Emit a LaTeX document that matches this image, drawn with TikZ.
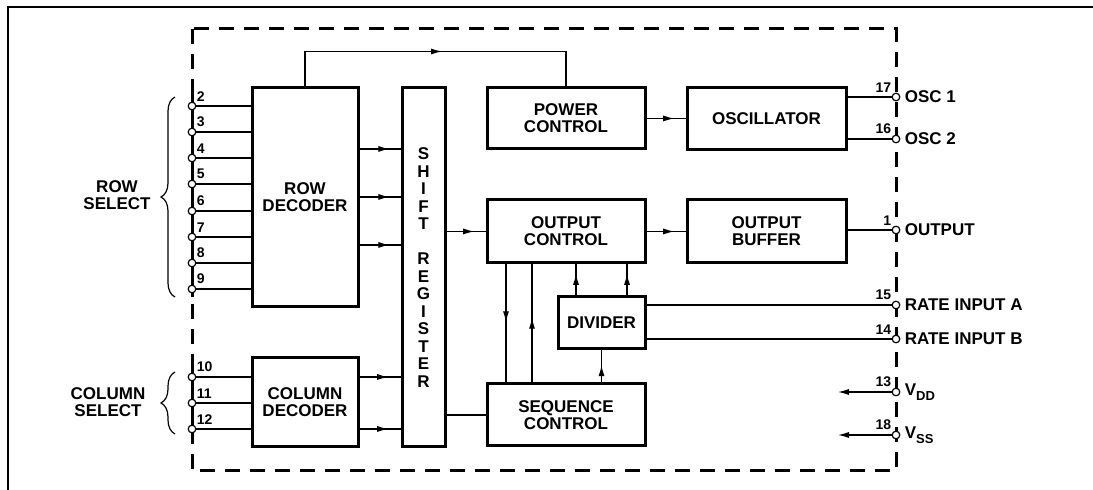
\documentclass[tikz,border=0pt]{standalone}
\usepackage{fontspec}
\setmainfont{Liberation Sans}
\usetikzlibrary{arrows.meta,decorations.pathreplacing,decorations.markings}

\newcommand{\pinsub}[1]{\raisebox{-0.5ex}{\fontsize{6.5}{7}\selectfont #1}}

\tikzset{
  block/.style={draw, line width=1.5pt, inner sep=0pt, align=center,
    font=\fontsize{8.5}{8.6}\selectfont\bfseries},
  pin/.style={circle, draw, fill=white, line width=0.6pt, inner sep=0pt, minimum size=3.8pt},
  pinnum/.style={font=\fontsize{7}{7}\selectfont\bfseries, inner sep=0.7pt},
  pinname/.style={font=\fontsize{8.5}{8.6}\selectfont\bfseries, inner sep=2pt, align=center},
  wire/.style={line width=0.55pt},
  midarrow/.style={postaction={decorate}, decoration={markings,
    mark=at position #1 with {\arrow{Latex[length=5.5pt,width=3pt]}}}},
  midarrow/.default=0.7
}

\begin{document}
\begin{tikzpicture}[x=0.5pt,y=-0.5pt]
      \useasboundingbox (0,0) rectangle (1093,490);
      \draw[line width=0.8pt] (1093,7) -- (8,7) -- (8,490);
      \draw[line width=1.5pt, dash pattern=on 7.5pt off 5pt] (192,29) rectangle (896,471);
      \draw[line width=1.5pt] (192,88) -- (192,297);
      \draw[line width=1.5pt] (192,366) -- (192,441);

      \node[block, minimum width=53pt, minimum height=109.5pt] (rowdec) at (305,197.5) {ROW\\DECODER};
      \node[block, minimum width=53pt, minimum height=44.5pt] (coldec) at (305,402.5) {COLUMN\\DECODER};
      \node[block, minimum width=21.5pt, minimum height=179.5pt,
        font=\fontsize{8.5}{8.75}\selectfont\bfseries] (shift) at (423.5,267.5)
        {S\\H\\I\\F\\T\\[8.75pt]R\\E\\G\\I\\S\\T\\E\\R};
      \node[block, minimum width=79pt, minimum height=30.5pt] (power) at (566,118.5) {POWER\\CONTROL};
      \node[block, minimum width=79.5pt, minimum height=31pt] (osc) at (766.5,119) {OSCILLATOR};
      \node[block, minimum width=79pt, minimum height=31.5pt] (outctl) at (566,231.5) {OUTPUT\\CONTROL};
      \node[block, minimum width=79.5pt, minimum height=31.5pt] (outbuf) at (766.5,231.5) {OUTPUT\\BUFFER};
      \node[block, minimum width=43.5pt, minimum height=26pt] (divider) at (601.5,323) {DIVIDER};
      \node[block, minimum width=79pt, minimum height=31pt] (seqctl) at (566,415) {SEQUENCE\\CONTROL};

      \node[pin, label={[pinnum]above right:2}] (p2) at (192,106) {};
      \node[pin, label={[pinnum]above right:3}] (p3) at (192,132) {};
      \node[pin, label={[pinnum]above right:4}] (p4) at (192,158) {};
      \node[pin, label={[pinnum]above right:5}] (p5) at (192,184) {};
      \node[pin, label={[pinnum]above right:6}] (p6) at (192,211) {};
      \node[pin, label={[pinnum]above right:7}] (p7) at (192,237) {};
      \node[pin, label={[pinnum]above right:8}] (p8) at (192,263) {};
      \node[pin, label={[pinnum]above right:9}] (p9) at (192,289) {};
      \node[pin, label={[pinnum]above right:10}] (p10) at (192,377) {};
      \node[pin, label={[pinnum]above right:11}] (p11) at (192,403) {};
      \node[pin, label={[pinnum]above right:12}] (p12) at (192,429) {};

      \node[pin, label={[pinnum]above left:17}, label={[pinname]right:OSC 1}] (p17) at (896,97) {};
      \node[pin, label={[pinnum]above left:16}, label={[pinname]right:OSC 2}] (p16) at (896,139) {};
      \node[pin, label={[pinnum]above left:1}, label={[pinname]right:OUTPUT}] (p1) at (896,230) {};
      \node[pin, label={[pinnum]above left:15}, label={[pinname]right:RATE INPUT A}] (p15) at (896,305) {};
      \node[pin, label={[pinnum]above left:14}, label={[pinname]right:RATE INPUT B}] (p14) at (896,339) {};
      \node[pin, label={[pinnum]above left:13}, label={[pinname]right:V\pinsub{DD}}] (p13) at (896,392) {};
      \node[pin, label={[pinnum]above left:18}, label={[pinname]right:V\pinsub{SS}}] (p18) at (896,435) {};
      \coordinate (vddend) at (838,392);
      \coordinate (vssend) at (838,435);

      \node[pinname] (rowsel) at (117,195) {ROW\\SELECT};
      \node[pinname] (colsel) at (108,402) {COLUMN\\SELECT};
      \draw[line width=0.6pt, decorate, decoration={brace, amplitude=7pt}] (175,297) -- (175,97);
      \draw[line width=0.6pt, decorate, decoration={brace, amplitude=7pt}] (175,434) -- (175,372);

      \draw[wire] (p2) -- (p2 -| rowdec.west);
      \draw[wire] (p3) -- (p3 -| rowdec.west);
      \draw[wire] (p4) -- (p4 -| rowdec.west);
      \draw[wire] (p5) -- (p5 -| rowdec.west);
      \draw[wire] (p6) -- (p6 -| rowdec.west);
      \draw[wire] (p7) -- (p7 -| rowdec.west);
      \draw[wire] (p8) -- (p8 -| rowdec.west);
      \draw[wire] (p9) -- (p9 -| rowdec.west);
      \draw[wire] (p10) -- (p10 -| coldec.west);
      \draw[wire] (p11) -- (p11 -| coldec.west);
      \draw[wire] (p12) -- (p12 -| coldec.west);

      \draw[wire, midarrow=0.73] (rowdec.east |- 0,149) -- (shift.west |- 0,149);
      \draw[wire, midarrow=0.73] (rowdec.east |- 0,197) -- (shift.west |- 0,197);
      \draw[wire, midarrow=0.73] (rowdec.east |- 0,245) -- (shift.west |- 0,245);
      \draw[wire, midarrow=0.7] (coldec.east |- p10) -- (shift.west |- p10);
      \draw[wire, midarrow=0.7] (coldec.east |- p12) -- (shift.west |- p12);

      \draw[wire, midarrow=0.52] (rowdec.north) -- ++(0,-35) -| (power.north);
      \draw[wire, midarrow=0.71] (power.east) -- (power.east -| osc.west);
      \draw[wire, midarrow=0.71] (shift.east |- outctl.west) -- (outctl.west);
      \draw[wire, midarrow=0.71] (outctl.east) -- (outbuf.west);
      \draw[wire] (shift.east |- seqctl.west) -- (seqctl.west);

      \draw[wire, midarrow=0.49] (outctl.south -| 506,0) -- (seqctl.north -| 506,0);
      \draw[wire, midarrow=0.55] (seqctl.north -| 532,0) -- (outctl.south -| 532,0);
      \draw[wire, midarrow=0.7] (divider.north -| 576,0) -- (outctl.south -| 576,0);
      \draw[wire, midarrow=0.7] (divider.north -| 627,0) -- (outctl.south -| 627,0);
      \draw[wire, midarrow=0.54] (seqctl.north -| divider.south) -- (divider.south);

      \draw[wire] (osc.east |- p17) -- (p17);
      \draw[wire] (osc.east |- p16) -- (p16);
      \draw[wire] (outbuf.east |- p1) -- (p1);
      \draw[wire] (divider.east |- p15) -- (p15);
      \draw[wire] (divider.east |- p14) -- (p14);
      \draw[wire, -{Latex[length=5.5pt,width=3pt]}] (p13) -- (vddend);
      \draw[wire, -{Latex[length=5.5pt,width=3pt]}] (p18) -- (vssend);
\end{tikzpicture}
\end{document}
